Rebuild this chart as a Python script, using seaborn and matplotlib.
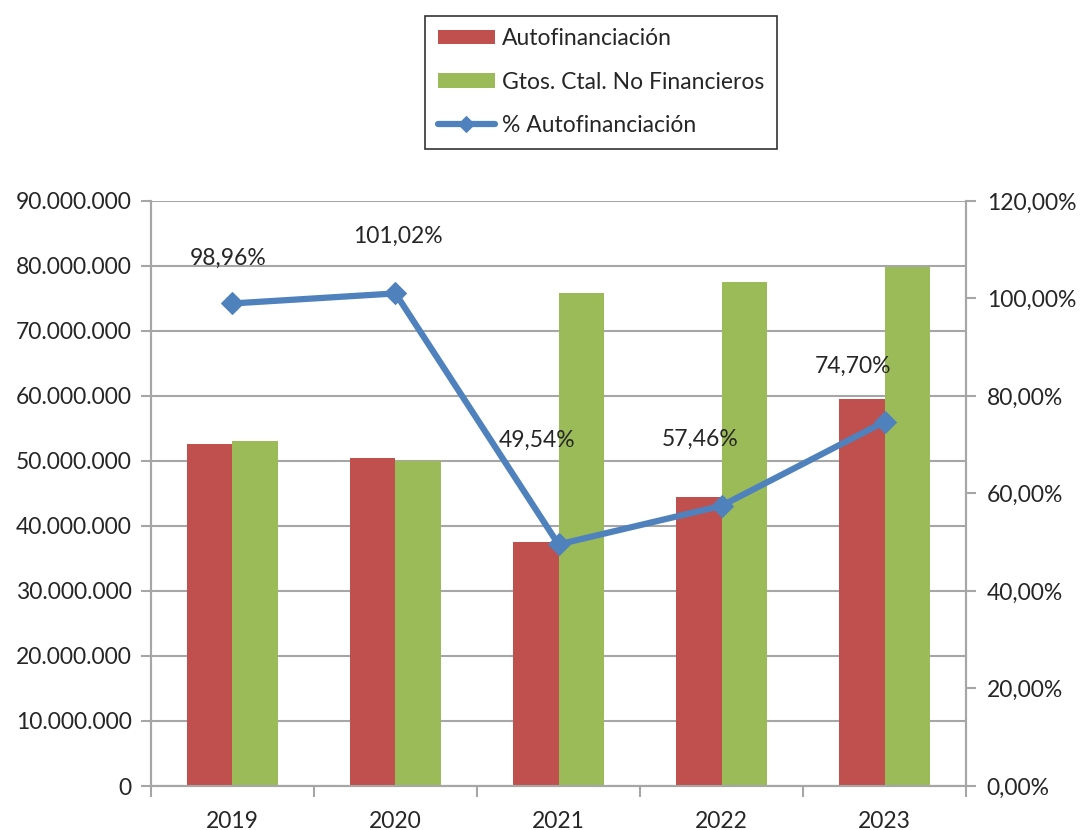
import pandas as pd
import numpy as np
from matplotlib import pyplot as plt
from matplotlib.ticker import FuncFormatter, FixedLocator
import seaborn as sns

# Datos
years = ["2019", "2020", "2021", "2022", "2023"]
autofin = [52550000, 50500000, 37600000, 44500000, 59600000]
gastos = [53100000, 49990000, 75900000, 77450000, 79800000]
pct_autofin = [98.96, 101.02, 49.54, 57.46, 74.70]
pct_labels = ["98,96%", "101,02%", "49,54%", "57,46%", "74,70%"]

RED = "#C0504D"
GREEN = "#9BBB59"
BLUE = "#4F81BD"
GREY = "#A6A6A6"
FS = 16.5

sns.set_style("white")
plt.rcParams["font.family"] = ["Lato", "DejaVu Sans"]
plt.rcParams["font.size"] = FS

data = pd.DataFrame({
    "year": years * 2,
    "value": autofin + gastos,
    "serie": ["Autofinanciación"] * 5 + ["Gtos. Ctal. No Financieros"] * 5,
})

fig = plt.figure(figsize=(10.83, 8.3), dpi=100)
ax = fig.add_axes([0.1394, 0.053, 0.7526, 0.705])

sns.barplot(data=data, x="year", y="value", hue="serie", palette=[RED, GREEN],
            width=0.56, gap=0, saturation=1, ax=ax, linewidth=0)

ax.set_ylim(0, 90000000)
ax.set_xlim(-0.5, 4.5)
ax.set_yticks(np.arange(0, 90000001, 10000000))
ax.yaxis.set_major_formatter(FuncFormatter(lambda v, p: f"{int(v):,}".replace(",", ".")))
ax.grid(axis="y", color=GREY, linewidth=1.5)
ax.set_axisbelow(True)
ax.set_xlabel("")
ax.set_ylabel("")
ax.tick_params(axis="y", length=7, width=1.5, color=GREY, left=True, pad=7, labelsize=FS)
ax.tick_params(axis="x", which="major", length=0, pad=18, labelsize=FS)
ax.xaxis.set_minor_locator(FixedLocator(np.arange(-0.5, 5, 1)))
ax.tick_params(axis="x", which="minor", length=8, width=1.5, color=GREY, bottom=True)
for side in ["left", "bottom", "right"]:
    ax.spines[side].set_color(GREY)
    ax.spines[side].set_linewidth(1.5)
ax.spines["top"].set_visible(False)

ax2 = ax.twinx()
sns.lineplot(x=np.arange(len(years)), y=pct_autofin, ax=ax2, color=BLUE, linewidth=4.5,
             marker="D", markersize=11, markeredgecolor=BLUE, label="% Autofinanciación")
ax2.set_ylim(0, 120)
ax2.set_yticks(np.arange(0, 121, 20))
ax2.yaxis.set_major_formatter(FuncFormatter(lambda v, p: f"{v:.2f}".replace(".", ",") + "%"))
ax2.tick_params(axis="y", length=7, width=1.5, color=GREY, right=True, pad=8, labelsize=FS)
for side in ["left", "bottom", "right"]:
    ax2.spines[side].set_color(GREY)
    ax2.spines[side].set_linewidth(1.5)
ax2.spines["top"].set_visible(False)

# etiquetas de datos (desplazamientos en pixeles, como en el original)
offsets = [(-4, 45), (2, 57), (-21, 104), (-21, 66), (-32, 55)]
for i, (val, lab) in enumerate(zip(pct_autofin, pct_labels)):
    ax2.annotate(lab, (i, val), xytext=offsets[i], textcoords="offset pixels",
                 ha="center", va="center", fontsize=FS)

h1, l1 = ax.get_legend_handles_labels()
h2, l2 = ax2.get_legend_handles_labels()
ax.get_legend().remove()
ax2.get_legend().remove()
leg = fig.legend(h1 + h2, l1 + l2, loc="upper left", bbox_to_anchor=(0.382, 0.995),
                 frameon=True, fancybox=False, edgecolor="black", fontsize=FS,
                 handlelength=2.5, handleheight=0.6, handletextpad=0.3,
                 labelspacing=0.98, borderpad=0.55)
leg.get_frame().set_linewidth(1.2)
for ln in leg.get_lines():
    ln.set_markersize(8)

plt.savefig("out.png", dpi=100)
